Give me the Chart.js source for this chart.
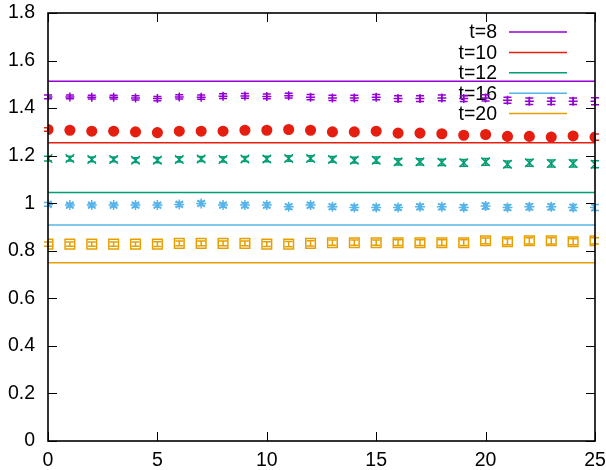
<!DOCTYPE html>
<html>
<head>
<meta charset="utf-8">
<script src="https://cdn.jsdelivr.net/npm/chart.js@4"></script>
<style>
html,body{margin:0;padding:0;background:#fff;}
#wrap{width:606px;height:470px;}
</style>
</head>
<body>
<div id="wrap"><canvas id="c" width="606" height="470"></canvas></div>
<script>
// ---- data ----
const xValues = [0,1,2,3,4,5,6,7,8,9,10,11,12,13,14,15,16,17,18,19,20,21,22,23,24,25];
const seriesLabels = ['t=8','t=10','t=12','t=16','t=20'];
const t8  = [1.447,1.447,1.446,1.446,1.443,1.440,1.447,1.446,1.450,1.451,1.449,1.452,1.446,1.443,1.443,1.446,1.440,1.440,1.443,1.440,1.443,1.433,1.429,1.429,1.429,1.429];
const t10 = [1.310,1.307,1.303,1.303,1.300,1.297,1.303,1.303,1.303,1.307,1.307,1.310,1.307,1.300,1.300,1.303,1.295,1.295,1.292,1.286,1.289,1.281,1.281,1.278,1.283,1.278];
const t12 = [1.188,1.188,1.184,1.184,1.181,1.181,1.184,1.186,1.184,1.186,1.186,1.188,1.188,1.184,1.181,1.181,1.174,1.174,1.172,1.170,1.174,1.164,1.170,1.167,1.167,1.164];
const t16 = [0.995,0.992,0.992,0.992,0.992,0.992,0.995,0.999,0.992,0.992,0.992,0.985,0.992,0.985,0.982,0.982,0.982,0.985,0.985,0.982,0.988,0.982,0.985,0.985,0.982,0.982];
const t20 = [0.828,0.828,0.828,0.828,0.828,0.828,0.831,0.831,0.831,0.831,0.828,0.828,0.831,0.834,0.834,0.834,0.834,0.834,0.834,0.834,0.842,0.838,0.842,0.842,0.838,0.842];
const err8  = [0.008,0.008,0.008,0.008,0.009,0.009,0.009,0.009,0.010,0.010,0.010,0.010,0.011,0.011,0.011,0.011,0.012,0.012,0.012,0.012,0.013,0.013,0.014,0.014,0.014,0.015];
const err10 = [0.007,0.007,0.007,0.007,0.008,0.008,0.008,0.008,0.009,0.009,0.009,0.009,0.010,0.010,0.010,0.010,0.011,0.011,0.011,0.011,0.012,0.012,0.012,0.013,0.013,0.013];
const err12 = [0.010,0.010,0.010,0.010,0.010,0.011,0.011,0.011,0.011,0.011,0.012,0.012,0.012,0.012,0.012,0.013,0.013,0.013,0.013,0.014,0.014,0.014,0.014,0.015,0.015,0.015];
const err16 = [0.008,0.008,0.008,0.008,0.009,0.009,0.009,0.009,0.009,0.010,0.010,0.010,0.010,0.010,0.011,0.011,0.011,0.011,0.011,0.012,0.012,0.012,0.012,0.012,0.013,0.013];
const err20 = [0.009,0.009,0.009,0.009,0.009,0.010,0.010,0.010,0.010,0.010,0.010,0.011,0.011,0.011,0.011,0.011,0.012,0.012,0.012,0.012,0.012,0.013,0.013,0.013,0.013,0.013];
const fitLevels = [1.513, 1.254, 1.045, 0.908, 0.750];
const xTickValues = [0,5,10,15,20,25];
const xTickLabels = ['0','5','10','15','20','25'];
const yTickValues = [0,0.2,0.4,0.6,0.8,1.0,1.2,1.4,1.6,1.8];
const yTickLabels = ['0','0.2','0.4','0.6','0.8','1','1.2','1.4','1.6','1.8'];

// ---- styling ----
const colors = ['#9400d3','#e51e10','#009e73','#56b4e9','#e69f00'];
const pointStyles = ['cross','circle','crossRot','star','rect'];
const pointRadii = [4.5,4.8,6,5,6.8];
const FONT = '"Liberation Sans", Arial, sans-serif';
const FS = 19.5;

const seriesData = [t8,t10,t12,t16,t20];
const seriesErr = [err8,err10,err12,err16,err20];

const datasets = [];
fitLevels.forEach((lv,i)=>{
  datasets.push({
    label: seriesLabels[i],
    data: [{x:xValues[0],y:lv},{x:xValues[xValues.length-1],y:lv}],
    showLine: true, borderColor: colors[i], borderWidth: 1.5,
    pointRadius: 0, fill:false
  });
});
seriesData.forEach((arr,i)=>{
  datasets.push({
    label: seriesLabels[i]+' data',
    data: xValues.map((x,k)=>({x:x,y:arr[k]})),
    errs: seriesErr[i],
    showLine:false,
    pointStyle: pointStyles[i],
    pointRadius: pointRadii[i],
    pointHoverRadius: pointRadii[i],
    borderColor: colors[i],
    backgroundColor: i===1 ? colors[i] : 'rgba(0,0,0,0)',
    borderWidth: 1.5
  });
});

const errorBarPlugin = {
  id:'errbars',
  afterDatasetsDraw(chart){
    const ctx = chart.ctx, ys = chart.scales.y, xs = chart.scales.x;
    ctx.save();
    chart.data.datasets.forEach(ds=>{
      if(!ds.errs) return;
      ctx.strokeStyle = ds.borderColor; ctx.lineWidth = 1.5;
      ds.data.forEach((p,k)=>{
        const px = xs.getPixelForValue(p.x);
        const y1 = ys.getPixelForValue(p.y - ds.errs[k]);
        const y2 = ys.getPixelForValue(p.y + ds.errs[k]);
        const cw = 4;
        ctx.beginPath();
        ctx.moveTo(px,y1); ctx.lineTo(px,y2);
        ctx.moveTo(px-cw,y1); ctx.lineTo(px+cw,y1);
        ctx.moveTo(px-cw,y2); ctx.lineTo(px+cw,y2);
        ctx.stroke();
      });
    });
    ctx.restore();
  }
};

const frameTicksPlugin = {
  id:'frameTicks',
  afterDraw(chart){
    const ctx = chart.ctx, a = chart.chartArea, xs = chart.scales.x, ys = chart.scales.y;
    const L = 9;
    ctx.save();
    ctx.strokeStyle = '#000'; ctx.lineWidth = 1;
    ctx.beginPath();
    yTickValues.forEach(v=>{
      const py = Math.round(ys.getPixelForValue(v))+0.5;
      ctx.moveTo(a.left,py); ctx.lineTo(a.left+L,py);
      ctx.moveTo(a.right,py); ctx.lineTo(a.right-L,py);
    });
    xTickValues.forEach(v=>{
      const px = Math.round(xs.getPixelForValue(v))+0.5;
      ctx.moveTo(px,a.bottom); ctx.lineTo(px,a.bottom-L);
      ctx.moveTo(px,a.top); ctx.lineTo(px,a.top+L);
    });
    ctx.stroke();
    ctx.lineWidth = 1.6;
    ctx.strokeRect(a.left, a.top, a.right-a.left, a.bottom-a.top);
    ctx.restore();
  }
};

const keyPlugin = {
  id:'gkey',
  beforeDatasetsDraw(chart){
    const ctx = chart.ctx, a = chart.chartArea;
    ctx.save();
    ctx.font = FS+'px '+FONT;
    ctx.textAlign = 'right'; ctx.textBaseline = 'middle';
    seriesLabels.forEach((lab,i)=>{
      const y = a.top + 19 + i*20.4;
      ctx.fillStyle = '#000';
      ctx.fillText(lab, a.right-98, y+1);
      ctx.strokeStyle = colors[i]; ctx.lineWidth = 1.5;
      ctx.beginPath(); ctx.moveTo(a.right-86,y); ctx.lineTo(a.right-28,y); ctx.stroke();
    });
    ctx.restore();
  }
};

new Chart(document.getElementById('c'),{
  type:'scatter',
  data:{datasets},
  options:{
    responsive:false, animation:false,
    layout:{padding:{top:13,right:11,left:0,bottom:0}},
    plugins:{legend:{display:false},tooltip:{enabled:false}},
    scales:{
      x:{
        type:'linear', min:0, max:25,
        afterBuildTicks(s){ s.ticks = xTickValues.map(v=>({value:v})); },
        ticks:{ callback:(v)=>xTickLabels[xTickValues.indexOf(v)], font:{family:FONT,size:FS}, color:'#000', padding:8, maxRotation:0, autoSkip:false },
        grid:{display:false, drawTicks:false},
        border:{display:false},
        afterFit(s){ s.height = 29; s.paddingLeft = 0; s.paddingRight = 0; }
      },
      y:{
        type:'linear', min:0, max:1.8,
        afterBuildTicks(s){ s.ticks = yTickValues.map(v=>({value:v})); },
        ticks:{ callback:(v)=>{const k=yTickValues.findIndex(t=>Math.abs(t-v)<1e-9); return yTickLabels[k];}, font:{family:FONT,size:FS}, color:'#000', padding:13, autoSkip:false },
        grid:{display:false, drawTicks:false},
        border:{display:false},
        afterFit(s){ s.width = 48; s.paddingTop = 0; s.paddingBottom = 0; }
      }
    }
  },
  plugins:[keyPlugin, errorBarPlugin, frameTicksPlugin]
});
</script>
</body>
</html>
